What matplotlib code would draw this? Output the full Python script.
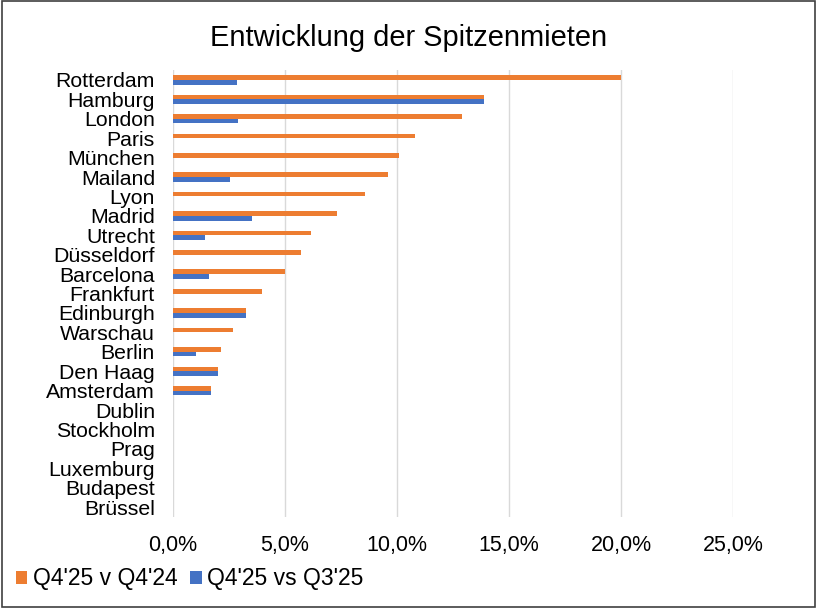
import matplotlib
matplotlib.use('Agg')
import matplotlib.pyplot as plt
from matplotlib.patches import Rectangle
from matplotlib.ticker import FuncFormatter
import numpy as np

plt.rcParams['font.family'] = ['Liberation Sans', 'DejaVu Sans']

cities = ['Rotterdam', 'Hamburg', 'London', 'Paris', 'München', 'Mailand', 'Lyon',
          'Madrid', 'Utrecht', 'Düsseldorf', 'Barcelona', 'Frankfurt', 'Edinburgh',
          'Warschau', 'Berlin', 'Den Haag', 'Amsterdam', 'Dublin', 'Stockholm',
          'Prag', 'Luxemburg', 'Budapest', 'Brüssel']
# percent changes
yoy = [20.0, 13.9, 12.9, 10.8, 10.1, 9.6, 8.55, 7.3, 6.15, 5.7, 5.0, 3.97, 3.25,
       2.66, 2.16, 2.02, 1.70, 0, 0, 0, 0, 0, 0]
qoq = [2.85, 13.9, 2.92, 0, 0, 2.54, 0, 3.51, 1.44, 0, 1.59, 0, 3.25,
       0, 1.04, 2.02, 1.70, 0, 0, 0, 0, 0, 0]
labels = ["Q4'25 v Q4'24", "Q4'25 vs Q3'25"]

orange = '#ed7d31'
blue = '#4472c4'

fig = plt.figure(figsize=(8.17, 6.08), dpi=100)
ax = fig.add_axes([0.2118, 0.150, 0.6855, 0.7344])

y = np.arange(len(cities))
h = 0.24
ax.barh(y - h / 2, yoy, height=h, color=orange, label=labels[0], zorder=3)
ax.barh(y + h / 2, qoq, height=h, color=blue, label=labels[1], zorder=3)

ax.set_ylim(len(cities) - 0.5, -0.5)
ax.set_xlim(0, 25)
ax.set_yticks(y)
ax.set_yticklabels(cities, fontsize=15.3)
ax.set_xticks(np.arange(0, 26, 5))
ax.xaxis.set_major_formatter(FuncFormatter(lambda v, p: ('%.1f%%' % v).replace('.', ',')))
ax.tick_params(axis='x', labelsize=15.5, length=0, pad=13)
ax.tick_params(axis='y', length=0, pad=13)
ax.grid(axis='x', color='#d9d9d9', linewidth=1, zorder=0)
for s in ax.spines.values():
    s.set_visible(False)

fig.text(0.5, 0.938, 'Entwicklung der Spitzenmieten', ha='center', va='center', fontsize=20.9)

leg = fig.legend(loc='center left', bbox_to_anchor=(0.008, 0.048), ncol=2, frameon=False,
                 fontsize=16.5, handlelength=0.5, handleheight=0.5, handletextpad=0.25,
                 columnspacing=0.55, borderaxespad=0)

fig.patches.append(Rectangle((0.002, 0.002), 0.996, 0.996, transform=fig.transFigure,
                             fill=False, edgecolor='#404040', linewidth=1.2))

fig.savefig('out.png', dpi=100)
